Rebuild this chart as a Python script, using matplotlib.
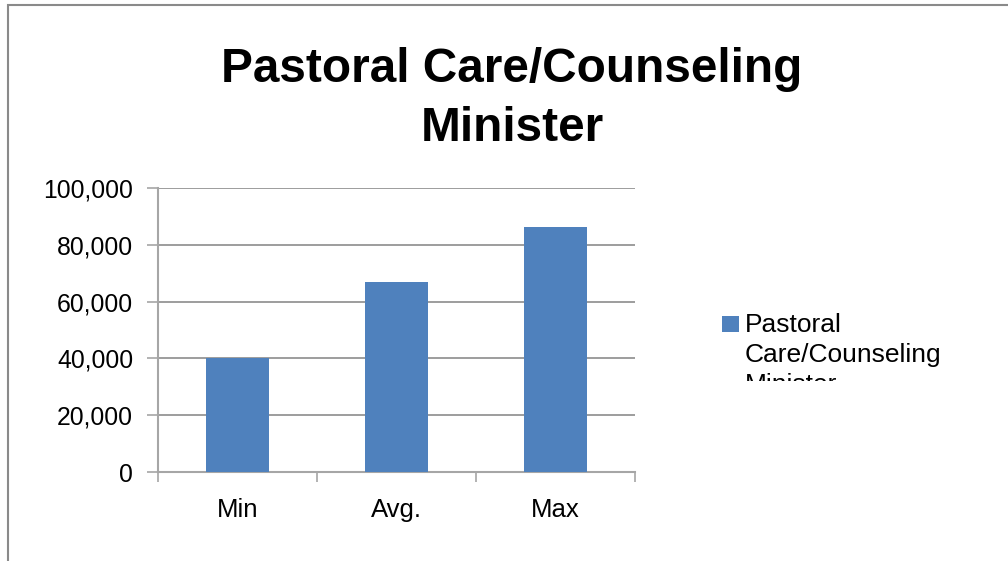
import matplotlib.pyplot as plt
from matplotlib.patches import Rectangle
from matplotlib.ticker import FuncFormatter, FixedLocator

categories = ['Min', 'Avg.', 'Max']
salary = [40000, 66900, 86300]
series_name = 'Pastoral\nCare/Counseling\nMinister'
title = 'Pastoral Care/Counseling\nMinister'

plt.rcParams['font.family'] = ['Liberation Sans', 'DejaVu Sans']
bar_color = '#4F81BD'
grid_color = '#8c8c8c'
axis_color = '#a6a6a6'

W, H = 1008, 561
fig = plt.figure(figsize=(W / 100, H / 100), dpi=100)

# outer chart border (only top/left visible in the reference)
fig.patches.append(Rectangle((8 / W, -0.1), 1.2, (H - 5) / H + 0.1, transform=fig.transFigure,
                             fill=False, edgecolor='#8a8a8a', linewidth=1.5))

ax = fig.add_axes([158 / W, 1 - 472 / H, (635 - 158) / W, (472 - 188) / H])
x = range(len(categories))
ax.bar(x, salary, width=0.4, color=bar_color, zorder=3)

ax.set_xlim(-0.5, 2.5)
ax.set_ylim(0, 100000)
ax.set_yticks(range(0, 100001, 20000))
ax.yaxis.set_major_formatter(FuncFormatter(lambda v, p: f'{int(v):,}'))
ax.set_xticks(list(x))
ax.set_xticklabels(categories)
ax.xaxis.set_minor_locator(FixedLocator([-0.5, 0.5, 1.5, 2.5]))
ax.tick_params(axis='x', which='major', length=0, pad=19, labelsize=18.5)
ax.tick_params(axis='x', which='minor', length=7, color=axis_color, width=1.2)
ax.tick_params(axis='y', length=8, color=axis_color, width=1.2, pad=10, labelsize=17.8)

ax.grid(axis='y', color=grid_color, linewidth=1.2, zorder=0)
ax.set_axisbelow(True)
for s in ['top', 'right']:
    ax.spines[s].set_visible(False)
for s in ['left', 'bottom']:
    ax.spines[s].set_color(axis_color)
    ax.spines[s].set_linewidth(1.5)

fig.text(512 / W, 1 - 47 / H, title, ha='center', va='top', fontsize=34.4,
         fontweight='bold', linespacing=1.4)

# legend entry (text cut off at the bottom like the reference)
fig.patches.append(Rectangle((722 / W, 1 - 332 / H), 17 / W, 16 / H,
                             transform=fig.transFigure, facecolor=bar_color, edgecolor='none'))
fig.text(745 / W, 1 - 313 / H, series_name, ha='left', va='top', fontsize=19,
         linespacing=1.32)
fig.patches.append(Rectangle((700 / W, 1 - 420 / H), 300 / W, 39 / H,
                             transform=fig.transFigure, facecolor='white', edgecolor='none',
                             zorder=10))

fig.savefig('out.png', dpi=100)
